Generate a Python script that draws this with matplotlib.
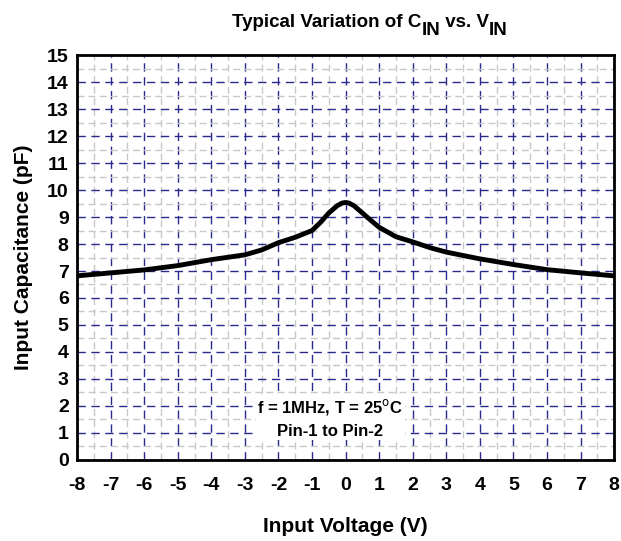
import numpy as np
import matplotlib.pyplot as plt
from matplotlib.ticker import MultipleLocator

plt.rcParams['font.family'] = ['Liberation Sans', 'DejaVu Sans']
plt.rcParams['axes.unicode_minus'] = False

# curve
vin = [-8, -7, -6, -5, -4, -3, -2.5, -2, -1.5, -1, -0.75, -0.5, -0.25, -0.1, 0, 0.1, 0.25, 0.5, 0.75, 1,
       1.5, 2, 2.5, 3, 4, 5, 6, 7, 8]
cin = [6.82, 6.93, 7.04, 7.2, 7.42, 7.6, 7.78, 8.05, 8.25, 8.5, 8.8, 9.15, 9.42, 9.52, 9.54, 9.52, 9.42,
       9.15, 8.88, 8.62, 8.27, 8.08, 7.87, 7.7, 7.45, 7.24, 7.05, 6.93, 6.82]

title_parts = [('Typical Variation of C', 0), ('IN', -1), (' vs. V', 0), ('IN', -1)]

fig = plt.figure(figsize=(6.21, 5.41), dpi=100)
ax = fig.add_axes([0.124, 0.150, 0.865, 0.748])

ax.set_xlim(-8, 8)
ax.set_ylim(0, 15)
ax.xaxis.set_major_locator(MultipleLocator(1))
ax.yaxis.set_major_locator(MultipleLocator(1))
ax.xaxis.set_minor_locator(MultipleLocator(0.5))
ax.yaxis.set_minor_locator(MultipleLocator(0.5))

ax.grid(which='minor', color='#c8c8c8', linestyle=(0, (5, 3)), linewidth=1.0)
ax.grid(which='major', color='#2a2a8c', linestyle=(0, (6, 4)), linewidth=1.0)
ax.set_axisbelow(True)

ax.plot(vin, cin, color='black', linewidth=3.5, solid_capstyle='round',
        solid_joinstyle='round', zorder=3)

for s in ax.spines.values():
    s.set_linewidth(2)
    s.set_color('black')

ax.tick_params(which='both', length=0, labelsize=14)
ax.tick_params(axis='x', pad=12)
ax.tick_params(axis='y', pad=6)
for lbl in ax.get_xticklabels() + ax.get_yticklabels():
    lbl.set_fontweight('bold')

ax.set_xlabel('Input Voltage (V)', fontsize=15, fontweight='bold', labelpad=17)
ax.set_ylabel('Input Capacitance (pF)', fontsize=15, fontweight='bold', labelpad=10)

# title with large subscripts, built piece by piece
fig.canvas.draw()
r = fig.canvas.get_renderer()
pieces = []
total = 0
for txt, sub in title_parts:
    t = fig.text(0, 0, txt, fontsize=13.5)
    t.set_fontweight('bold')
    w = t.get_window_extent(r).width
    pieces.append((t, w, sub))
    total += w
x0 = 370 - total / 2
yb = fig.bbox.height - 27
for t, w, sub in pieces:
    t.set_position((x0 / fig.bbox.width, (yb + sub * 8) / fig.bbox.height))
    x0 += w

ax.text(-0.45, 1.55, 'f = 1MHz, T = 25$^{\\mathrm{o}}$C\nPin-1 to Pin-2', ha='center', va='center',
        fontsize=12, fontweight='bold', linespacing=1.55, zorder=4,
        bbox=dict(facecolor='white', edgecolor='none', pad=1))

fig.savefig('out.png', dpi=100)
